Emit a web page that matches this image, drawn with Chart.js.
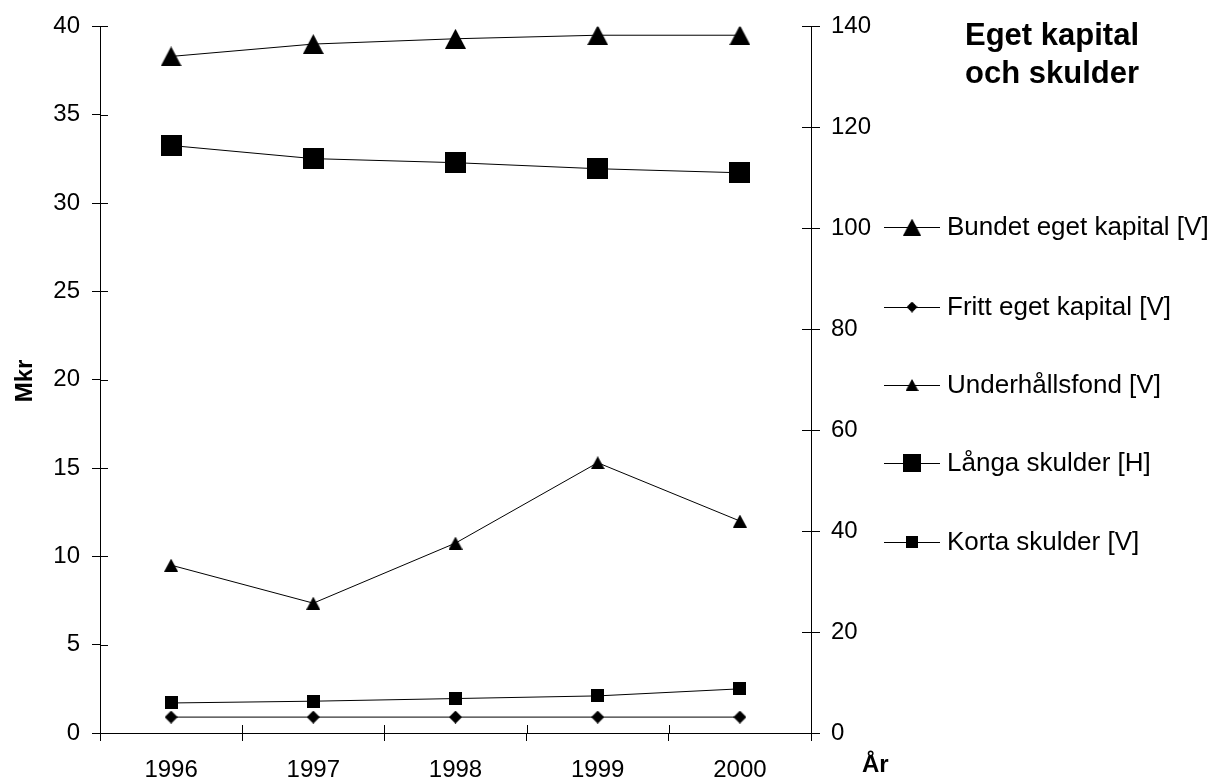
<!DOCTYPE html>
<html>
<head>
<meta charset="utf-8">
<script src="https://cdn.jsdelivr.net/npm/chart.js@4/dist/chart.umd.min.js"></script>
<style>
  html, body { margin: 0; padding: 0; background: #fff; }
  #wrap { width: 1216px; height: 782px; }
</style>
</head>
<body>
<div id="wrap"><canvas id="chart" width="1216" height="782"></canvas></div>
<script>
// ── Data ────────────────────────────────────────────────
const years = ['1996', '1997', '1998', '1999', '2000'];
const bundetKapital = [38.3, 39.0, 39.3, 39.5, 39.5];   // [V]
const frittKapital = [0.9, 0.9, 0.9, 0.9, 0.9];         // [V]
const underhallsfond = [9.5, 7.35, 10.75, 15.3, 12.0];  // [V]
const langaSkulder = [116.4, 113.8, 113.0, 111.8, 111.0]; // [H]
const kortaSkulder = [1.7, 1.8, 1.95, 2.1, 2.5];        // [V]
const leftTicks = { min: 0, max: 40, step: 5 };
const rightTicks = { min: 0, max: 140, step: 20 };

const FONT = 'Arial, "Liberation Sans", sans-serif';

// ── Marker sprites (Excel-style, centred in their box) ──
function sprite(w, h, path) {
  const c = document.createElement('canvas');
  c.width = w; c.height = h;
  const g = c.getContext('2d');
  g.fillStyle = '#000';
  g.beginPath();
  path(g, w, h);
  g.fill();
  return c;
}
const tri = (g, w, h) => { g.moveTo(w / 2, 0); g.lineTo(w, h); g.lineTo(0, h); g.closePath(); };
const sq = (g, w, h) => g.rect(0, 0, w, h);
const dia = (g, w, h) => { g.moveTo(w / 2, 0); g.lineTo(w, h / 2); g.lineTo(w / 2, h); g.lineTo(0, h / 2); g.closePath(); };

const bigTri = sprite(21, 20, tri);
const smallTri = sprite(14, 13, tri);
const bigSq = sprite(21, 21, sq);
const smallSq = sprite(13, 13, sq);
const diamond = sprite(13, 13, dia);

function series(label, data, marker, axis) {
  return {
    label, data, yAxisID: axis,
    borderColor: '#000', borderWidth: 1, tension: 0, fill: false,
    pointStyle: marker, pointRadius: 10,
  };
}

// legend entries: label, sprite, drawn size
const legendItems = [
  ['Bundet eget kapital [V]', bigTri, 18, 17],
  ['Fritt eget kapital [V]', diamond, 11, 11],
  ['Underhållsfond [V]', smallTri, 13, 12],
  ['Långa skulder [H]', bigSq, 18, 18],
  ['Korta skulder [V]', smallSq, 12, 12],
];
const legendY = [227, 307, 385, 463, 542];

// ── Extra drawing: inner tick halves, legend, titles ────
const decor = {
  id: 'decor',
  afterDraw(chart) {
    const ctx = chart.ctx;
    const { x, y, y2 } = chart.scales;
    ctx.save();
    ctx.strokeStyle = '#000';
    ctx.lineWidth = 1;
    ctx.beginPath();
    y.ticks.forEach((t, i) => {
      const p = Math.round(y.getPixelForTick(i)) + 0.5;
      ctx.moveTo(y.right, p); ctx.lineTo(y.right + 8, p);
    });
    y2.ticks.forEach((t, i) => {
      const p = Math.round(y2.getPixelForTick(i)) + 0.5;
      ctx.moveTo(y2.left - 9, p); ctx.lineTo(y2.left, p);
    });
    const n = years.length;
    for (let i = 0; i <= n; i++) {
      const p = Math.round(x.left + i * x.width / n) + 0.5;
      ctx.moveTo(p, x.top - 8); ctx.lineTo(p, x.top);
    }
    ctx.stroke();

    // legend
    ctx.fillStyle = '#000';
    ctx.font = '26px ' + FONT;
    ctx.textBaseline = 'middle';
    ctx.textAlign = 'left';
    legendItems.forEach(([label, img, w, h], i) => {
      const ly = legendY[i];
      ctx.beginPath();
      ctx.moveTo(884, ly + 0.5); ctx.lineTo(940, ly + 0.5);
      ctx.stroke();
      ctx.drawImage(img, 912 - w / 2, ly - h / 2, w, h);
      ctx.fillText(label, 947, ly + 1);
    });

    // chart title
    ctx.font = 'bold 31px ' + FONT;
    ctx.textAlign = 'center';
    ctx.textBaseline = 'alphabetic';
    ctx.fillText('Eget kapital', 1052, 45);
    ctx.fillText('och skulder', 1052, 83);

    // axis titles
    ctx.font = 'bold 24px ' + FONT;
    ctx.textAlign = 'left';
    ctx.fillText('År', 862, 772);
    ctx.translate(25, 381);
    ctx.rotate(-Math.PI / 2);
    ctx.textAlign = 'center';
    ctx.textBaseline = 'middle';
    ctx.fillText('Mkr', 0, 0);
    ctx.restore();
  }
};

Chart.defaults.font.family = FONT;
Chart.defaults.color = '#000';

new Chart(document.getElementById('chart'), {
  type: 'line',
  data: {
    labels: years,
    datasets: [
      series('Bundet eget kapital [V]', bundetKapital, bigTri, 'y'),
      series('Fritt eget kapital [V]', frittKapital, diamond, 'y'),
      series('Underhållsfond [V]', underhallsfond, smallTri, 'y'),
      series('Långa skulder [H]', langaSkulder, bigSq, 'y2'),
      series('Korta skulder [V]', kortaSkulder, smallSq, 'y'),
    ],
  },
  options: {
    responsive: false,
    animation: false,
    events: [],
    layout: { padding: { top: 26, left: 0, right: 0, bottom: 0 } },
    plugins: { legend: { display: false }, tooltip: { enabled: false } },
    scales: {
      x: {
        type: 'category',
        offset: true,
        grid: { offset: true, drawOnChartArea: false, drawTicks: true, tickLength: 8, color: '#000' },
        border: { color: '#000', width: 1 },
        ticks: { font: { size: 24 }, padding: 15, maxRotation: 0 },
        afterFit(s) { s.height = 49; },
      },
      y: {
        position: 'left',
        min: leftTicks.min, max: leftTicks.max,
        grid: { drawOnChartArea: false, tickLength: 8, color: '#000' },
        border: { color: '#000', width: 1 },
        ticks: { stepSize: leftTicks.step, font: { size: 24 }, padding: 12 },
        afterFit(s) { s.width = 100; },
      },
      y2: {
        position: 'right',
        min: rightTicks.min, max: rightTicks.max,
        grid: { drawOnChartArea: false, tickLength: 9, color: '#000' },
        border: { color: '#000', width: 1 },
        ticks: { stepSize: rightTicks.step, font: { size: 24 }, padding: 11 },
        afterFit(s) { s.width = 405; },
      },
    },
  },
  plugins: [decor],
});
</script>
</body>
</html>
